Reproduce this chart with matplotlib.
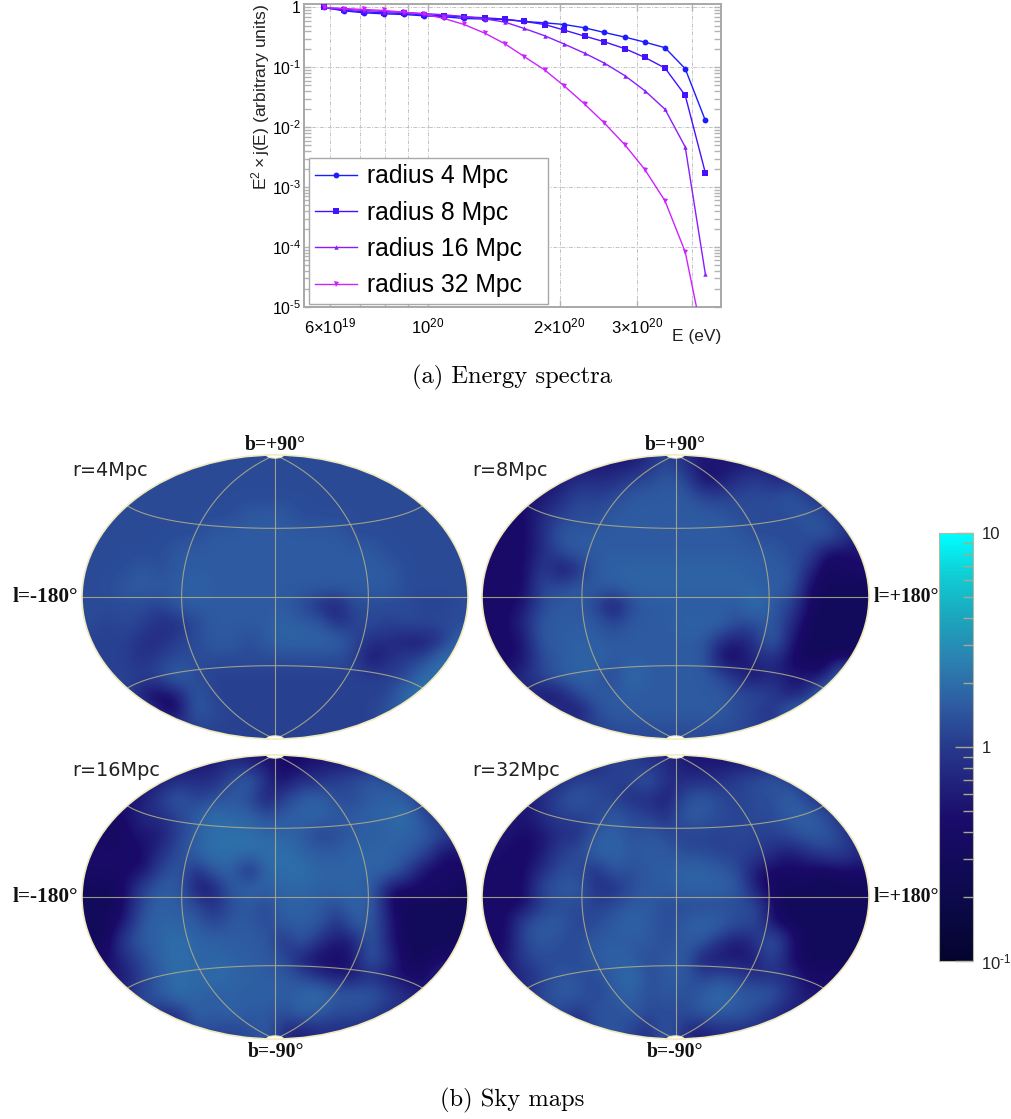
import numpy as np
import matplotlib
matplotlib.use('Agg')
import matplotlib.pyplot as plt
from matplotlib.cm import ScalarMappable
from matplotlib.colors import LinearSegmentedColormap, LogNorm
from matplotlib.patches import Ellipse
from matplotlib.ticker import FixedLocator, LogLocator, NullFormatter

W, H = 1011, 1119

plt.rcParams['font.family'] = ['Liberation Sans', 'DejaVu Sans']
plt.rcParams['mathtext.fontset'] = 'custom'
plt.rcParams['mathtext.rm'] = 'Liberation Sans'
plt.rcParams['mathtext.it'] = 'Liberation Sans'
plt.rcParams['mathtext.bf'] = 'Liberation Sans:bold'
plt.rcParams['mathtext.default'] = 'rm'

# spectra, E in eV
energy = [5.80e19, 6.44e19, 7.16e19, 7.95e19, 8.83e19, 9.81e19, 1.09e20, 1.21e20, 1.35e20, 1.50e20,
          1.66e20, 1.85e20, 2.05e20, 2.28e20, 2.53e20, 2.82e20, 3.13e20, 3.48e20, 3.87e20, 4.30e20]
radius_4 = [1, .88, .815, .784, .764, .726, .70, .656, .64, .63,
            .585, .555, .52, .458, .383, .32, .264, .213, .095, .0131]
radius_8 = [1, .90, .847, .815, .794, .755, .726, .70, .673, .64,
            .585, .52, .419, .333, .268, .205, .147, .0975, .0341, .00175]
radius_16 = [1, .938, .891, .857, .826, .794, .755, .708, .647, .57,
             .447, .337, .245, .173, .118, .0726, .0408, .02, .0047, 3.6e-5]
radius_32 = [1, .962, .927, .891, .836, .774, .656, .521, .373, .248,
             .152, .0904, .0489, .0245, .0118, .00508, .00197, .00059, 8.3e-5, 1.9e-6]

# sky maps: one digit per cell, index into level_values, rows from b=+90 to b=-90
level_values = [0.3, 0.42, 0.55, 0.8, 1.1, 1.26, 1.55, 1.75, 2.05]

sky_4 = [
    "5555555555555555555555",
    "5555555555555555555555",
    "5555555555555555555555",
    "5555555556665555555555",
    "5555555666666665555555",
    "5555566666666666655555",
    "5556566666666666665555",
    "5566667666666666665555",
    "5555466666665325555445",
    "5454335666676634545555",
    "4443345665677775332237",
    "4443455555555554134488",
    "4444575444444444444888",
    "5551026444444444448888",
    "5555206544444444466888",
    "4444444444444444444444",
]
sky_8 = [
    "2222222223532222222222",
    "2222233345651234333222",
    "1122354566665455564333",
    "1113455666666655556533",
    "1113666666666665555642",
    "1113566666666666655112",
    "1114136777777776663011",
    "1115566677777777661000",
    "1125664156666668641000",
    "1136666466677755630000",
    "1126676666666323720000",
    "1125677666666113310000",
    "2235676486666531322188",
    "3331256666666655423888",
    "4444315666666654378888",
    "4444444555555554444444",
]
sky_16 = [
    "2222222232211222222222",
    "2222233357313345654333",
    "1122464565246755676333",
    "1113346877567766778533",
    "1012246888776456677653",
    "1111357888887667776512",
    "1111463672788777774111",
    "0014662267777777611110",
    "0015765356477657610000",
    "0026776466566636620000",
    "0046787766636322620000",
    "1135787776652112630011",
    "2224687877665322321133",
    "3335687676767866643222",
    "3334337676657655433333",
    "3333335545632333333333",
]
sky_32 = [
    "3333333443322222222222",
    "3333344446333345643333",
    "2223565433256545574333",
    "2223444654366545567533",
    "2212336756544454456642",
    "2112457766655444323443",
    "1113553656677652111011",
    "1115663356677762000000",
    "1114554566555555100000",
    "1156645676567755100000",
    "1156556666566323620000",
    "1245556765662222510000",
    "2234655685664543331111",
    "3335664675656866632222",
    "3334536565556665323333",
    "3333335643632333333333",
]
sky_names = ['r=4Mpc', 'r=8Mpc', 'r=16Mpc', 'r=32Mpc']

cbar_stops = [(0.0, '#04042e'), (0.15, '#0c0a4c'), (0.33, '#1a0b6a'), (0.5, '#27398c'),
              (0.6, '#2e5ca2'), (0.7, '#2c80b0'), (0.8, '#1ca4bc'), (0.9, '#10ccd4'), (1.0, '#00ffff')]
sky_cmap = LinearSegmentedColormap.from_list('sky', cbar_stops)
sky_norm = LogNorm(0.1, 10)


def px_axes(x0, y0, x1, y1, **kw):
    return fig.add_axes([x0 / W, 1 - y1 / H, (x1 - x0) / W, (y1 - y0) / H], **kw)


def px_text(x, y, s, **kw):
    kw.setdefault('ha', 'center')
    kw.setdefault('va', 'center')
    return fig.text(x / W, 1 - y / H, s, **kw)


fig = plt.figure(figsize=(W / 100, H / 100), dpi=100, facecolor='white')

# top panel
ax = px_axes(303.5, 3.5, 721, 307)
ax.set_xscale('log')
ax.set_yscale('log')
series = [(radius_4, '#1c1cff', 'o', 4.2, 'radius 4 Mpc'),
          (radius_8, '#4412ff', 's', 4.0, 'radius 8 Mpc'),
          (radius_16, '#8a1cff', '^', 3.2, 'radius 16 Mpc'),
          (radius_32, '#cc22ff', 'v', 3.6, 'radius 32 Mpc')]
for vals, col, mk, ms, lab in series:
    ax.plot(energy, vals, color=col, marker=mk, ms=ms, mew=0, lw=1.0, label=lab, zorder=3)
ax.set_xlim(5.21e19, 4.67e20)
ax.set_ylim(1e-5, 1.166)

ax.set_xticks([6e19, 1e20, 2e20, 3e20])
ax.set_xticklabels([r'$6{\times}10^{19}$', r'$10^{20}$', r'$2{\times}10^{20}$', r'$3{\times}10^{20}$'])
ax.set_xticks([7e19, 8e19, 9e19, 4e20], minor=True)
ax.xaxis.set_minor_formatter(NullFormatter())
ax.set_yticks([1e-5, 1e-4, 1e-3, 1e-2, 1e-1, 1])
ax.set_yticklabels(['$10^{\u20105}$', '$10^{\u20104}$', '$10^{\u20103}$', '$10^{\u20102}$', '$10^{\u20101}$', '1'])
ax.yaxis.set_minor_locator(LogLocator(10, subs=range(2, 10), numticks=12))
ax.yaxis.set_minor_formatter(NullFormatter())
ax.grid(True, which='major', color='#c4c4c4', lw=0.7, ls=(0, (4, 1.5, 1, 1.5)))
ax.grid(True, which='minor', axis='x', color='#c4c4c4', lw=0.7, ls=(0, (4, 1.5, 1, 1.5)))
ax.tick_params(which='both', direction='in', top=True, right=True, color='#b4b4b4', width=1.0,
               length=5, labelsize=12, pad=2)
ax.tick_params(axis='x', pad=7)
ax.tick_params(axis='y', labelsize=11.3)
for s in ax.spines.values():
    s.set_color('#a8a8a8')
    s.set_linewidth(1.4)
ax.set_axisbelow(True)

leg = ax.legend(loc='lower left', bbox_to_anchor=(5.5 / 417.5, 3.5 / 303.5, 239 / 417.5, 0.4), mode='expand',
                fontsize=17.8, fancybox=False, framealpha=1, edgecolor='#a8a8a8', handlelength=1.71,
                handletextpad=0.4, labelspacing=0.5, borderpad=0.25, borderaxespad=0)
leg.get_frame().set_linewidth(1.0)
leg.set_zorder(5)

px_text(261, 97, r'$E^{2}\times$j(E) (arbitrary units)', rotation=90, fontsize=12.6, color='#222222')
px_text(696.5, 337, 'E (eV)', fontsize=12.5, color='#222222')
px_text(511.5, 377, '(a) Energy spectra', family='cmr10', fontsize=17.7)
px_text(512, 1100, '(b) Sky maps', family='cmr10', fontsize=17.7)

# sky maps
boxes = [(82, 455, 468, 739), (482, 455, 869, 739), (82, 755, 468, 1039), (482, 755, 869, 1039)]
grids = [sky_4, sky_8, sky_16, sky_32]
name_pos = [(110, 470), (510, 470), (116, 770), (516, 770)]
for box, grid, name, npos in zip(boxes, grids, sky_names, name_pos):
    values = np.array([[level_values[int(c)] for c in row] for row in grid])
    a = px_axes(*box)
    im = a.imshow(values, cmap=sky_cmap, norm=sky_norm, extent=(0, 1, 1, 0), aspect='auto',
                  interpolation='bicubic')
    a.set_axis_off()
    clip = Ellipse((0.5, 0.5), 1, 1, transform=a.transData)
    im.set_clip_path(clip)

    g = px_axes(*box, projection='hammer')
    g.set_aspect('auto')
    g.patch.set_alpha(0)
    g.set_longitude_grid_ends(90)
    g.xaxis.set_major_locator(FixedLocator(np.radians([-80, 0, 80])))
    g.yaxis.set_major_locator(FixedLocator(np.radians([-40, 0, 40])))
    g.xaxis.set_major_formatter(NullFormatter())
    g.yaxis.set_major_formatter(NullFormatter())
    g.grid(True, color='#aaa98a', lw=0.8, alpha=0.9)
    for s in g.spines.values():
        s.set_edgecolor('#efe9bd')
        s.set_linewidth(1.2)
    for sign in (1, -1):
        g.fill(np.radians([-179.9, 179.9, 179.9, -179.9]), np.radians([87.5, 87.5, 89.9, 89.9]) * sign,
               facecolor='white', edgecolor='#efe9bd', lw=0.8, zorder=4)
    px_text(npos[0], npos[1], name, family='DejaVu Sans', fontsize=13.9, color='#222222')

serif = dict(family='Liberation Serif', fontweight='bold', fontsize=14.2, color='#111111')
px_text(275, 445, 'b=+90°', **serif)
px_text(675, 445, 'b=+90°', **serif)
px_text(276, 1052, 'b=-90°', **serif)
px_text(675, 1052, 'b=-90°', **serif)
serif['fontsize'] = 15.3
px_text(45, 597, 'l=-180°', **serif)
px_text(45, 897, 'l=-180°', **serif)
serif['fontsize'] = 14.2
px_text(906, 597, 'l=+180°', **serif)
px_text(906, 897, 'l=+180°', **serif)

# colour bar
cax = px_axes(939, 533, 973, 961)
cb = fig.colorbar(ScalarMappable(norm=sky_norm, cmap=sky_cmap), cax=cax)
cb.set_ticks([0.1, 1, 10])
cb.set_ticklabels(['$10^{\u20101}$', '1', '10'])
cax.yaxis.set_minor_locator(FixedLocator([0.2, 0.3, 0.4, 0.5, 0.6, 0.7, 0.8, 0.9, 2, 3, 4, 5, 6, 7, 8, 9]))
cax.tick_params(which='major', direction='in', length=13, width=1, color='#a8a890', labelsize=12,
                pad=6, labelcolor='#222222')
cax.tick_params(which='minor', direction='in', length=7, width=1, color='#a8a890')
cb.outline.set_edgecolor('#b8b8a0')
cb.outline.set_linewidth(0.8)

fig.savefig('out.png', dpi=100)
